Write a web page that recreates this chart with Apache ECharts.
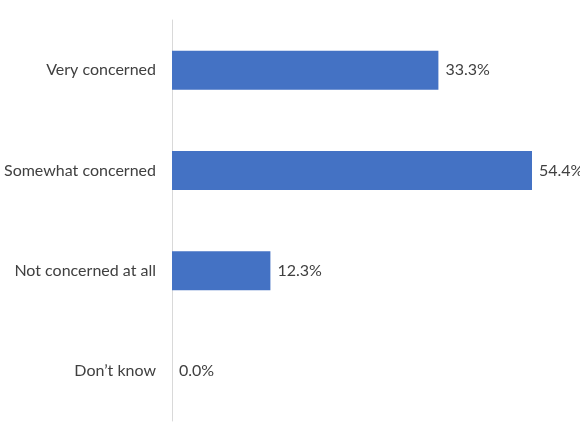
<!DOCTYPE html>
<html>
<head>
<meta charset="utf-8">
<script src="https://cdn.jsdelivr.net/npm/echarts@6/dist/echarts.min.js"></script>
<style>
  html, body { margin: 0; padding: 0; background: #fff; }
  #chart { width: 580px; height: 435px; }
</style>
</head>
<body>
<div id="chart"></div>
<script>
// categories top to bottom, values in percent
const categories = ['Very concerned', 'Somewhat concerned', 'Not concerned at all', 'Don\u2019t know'];
const shares = [33.3, 54.4, 12.3, 0.0];

const FONT = 'Lato';
const TEXT = '#404040';

var chart = echarts.init(document.getElementById('chart'));
chart.setOption({
  animation: false,
  grid: { left: 172, right: 48, top: 20, bottom: 14, containLabel: false },
  xAxis: {
    type: 'value',
    min: 0,
    max: 45,   // the source image is cropped, so the longest bar runs off the plot
    show: false
  },
  yAxis: {
    type: 'category',
    inverse: true,
    data: categories,
    axisLine: { show: true, lineStyle: { color: '#d9d9d9', width: 1 } },
    axisTick: { show: false },
    axisLabel: { color: TEXT, fontFamily: FONT, fontSize: 16, margin: 16 }
  },
  series: [{
    type: 'bar',
    data: shares,
    barWidth: 39,
    clip: true,
    itemStyle: { color: '#4472c4' },
    label: {
      show: true,
      position: 'right',
      distance: 7,
      color: TEXT,
      fontFamily: FONT,
      fontSize: 16,
      formatter: p => p.value.toFixed(1) + '%'
    }
  }]
});
</script>
</body>
</html>
